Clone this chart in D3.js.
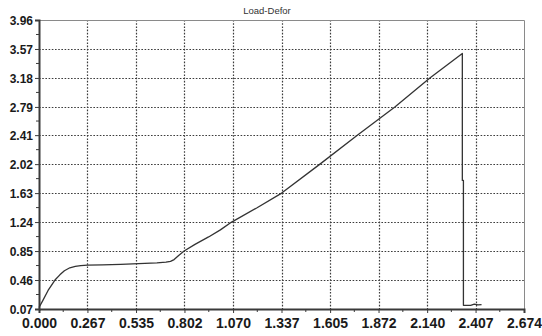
<!DOCTYPE html>
<html>
<head>
<meta charset="utf-8">
<script src="https://cdn.jsdelivr.net/npm/d3@7"></script>
<style>
  html, body { margin: 0; padding: 0; background: #fff; }
  svg { display: block; }
</style>
</head>
<body>
<svg id="chart" width="542" height="336"></svg>
<script>
// Load vs. deformation record of a tensile test
const deformation = [0.000, 0.020, 0.050, 0.088, 0.115, 0.140, 0.170, 0.200, 0.230, 0.267, 0.350, 0.450,
  0.550, 0.650, 0.700, 0.725, 0.745, 0.770, 0.800, 0.860, 0.935, 1.000, 1.062, 1.200, 1.338,
  1.549, 1.755, 1.962, 2.155, 2.334, 2.334, 2.340, 2.340, 2.380, 2.400, 2.420, 2.440];
const load = [0.09, 0.18, 0.32, 0.46, 0.53, 0.585, 0.625, 0.645, 0.655, 0.660, 0.665, 0.672,
  0.680, 0.690, 0.700, 0.712, 0.735, 0.790, 0.850, 0.940, 1.040, 1.135, 1.240, 1.430, 1.630,
  2.020, 2.410, 2.790, 3.180, 3.510, 1.800, 1.800, 0.120, 0.120, 0.135, 0.125, 0.130];

const xTicks = [0.000, 0.267, 0.535, 0.802, 1.070, 1.337, 1.605, 1.872, 2.140, 2.407, 2.674];
const yTicks = [0.07, 0.46, 0.85, 1.24, 1.63, 2.02, 2.41, 2.79, 3.18, 3.57, 3.96];
const title = "Load-Defor";

const svg = d3.select("#chart");
const plotL = 39, plotR = 524, plotT = 20, plotB = 309;

const x = d3.scaleLinear().domain([0, 2.674]).range([plotL, plotR]);
const y = d3.scaleLinear().domain([0.07, 3.96]).range([plotB, plotT]);

// midpoints between major ticks carry the minor tick marks
const mid = a => a.slice(1).map((v, i) => (v + a[i]) / 2);

// dotted grid
const grid = svg.append("g").attr("stroke", "#3c3c3c").attr("stroke-width", 1.2)
  .attr("stroke-dasharray", "1.6,1.6");
grid.selectAll("line.v").data(xTicks.slice(1, -1)).join("line").attr("class", "v")
  .attr("x1", d => Math.round(x(d)) + 0.5).attr("x2", d => Math.round(x(d)) + 0.5)
  .attr("y1", plotT).attr("y2", plotB);
grid.selectAll("line.h").data(yTicks.slice(1, -1)).join("line").attr("class", "h")
  .attr("x1", plotL).attr("x2", plotR)
  .attr("y1", d => Math.round(y(d)) + 0.5).attr("y2", d => Math.round(y(d)) + 0.5);

// top and right frame
svg.append("path")
  .attr("d", `M${plotL},${plotT + 0.5}H${plotR + 0.5}V${plotB}`)
  .attr("fill", "none").attr("stroke", "#8a8a8a").attr("stroke-width", 1);

// axes
const fmtX = d3.format(".3f"), fmtY = d3.format(".2f");
const xAxis = svg.append("g").attr("transform", `translate(0,${plotB})`)
  .call(d3.axisBottom(x).tickValues(xTicks).tickFormat(fmtX).tickSize(4).tickPadding(5));
const yAxis = svg.append("g").attr("transform", `translate(${plotL},0)`)
  .call(d3.axisLeft(y).tickValues(yTicks).tickFormat(fmtY).tickSize(4).tickPadding(2));
[xAxis, yAxis].forEach(g => {
  g.select(".domain").attr("stroke", "#3a3a3a").attr("stroke-width", 2);
  g.selectAll(".tick line").attr("stroke", "#3a3a3a");
});
xAxis.selectAll("text").attr("fill", "#1a1a1a")
  .style("font", "bold 14px 'Liberation Sans', Arial, sans-serif");
yAxis.selectAll("text").attr("fill", "#1a1a1a").attr("dy", "0.35em")
  .style("font", "bold 12px 'Liberation Sans', Arial, sans-serif");

// minor ticks
svg.append("g").selectAll("line").data(mid(xTicks)).join("line")
  .attr("x1", d => x(d)).attr("x2", d => x(d))
  .attr("y1", plotB).attr("y2", plotB + 3).attr("stroke", "#3a3a3a");
svg.append("g").selectAll("line").data(mid(yTicks)).join("line")
  .attr("y1", d => y(d)).attr("y2", d => y(d))
  .attr("x1", plotL).attr("x2", plotL - 3).attr("stroke", "#3a3a3a");

// load-deformation curve
const line = d3.line().x(d => x(d[0])).y(d => y(d[1])).curve(d3.curveLinear);
svg.append("path")
  .datum(d3.zip(deformation, load))
  .attr("d", line)
  .attr("fill", "none").attr("stroke", "#333").attr("stroke-width", 1.3)
  .attr("stroke-linejoin", "round");

// title
svg.append("text").attr("x", 267).attr("y", 14).attr("text-anchor", "middle")
  .attr("fill", "#333")
  .style("font", "9.5px 'Liberation Sans', Arial, sans-serif")
  .text(title);
</script>
</body>
</html>
